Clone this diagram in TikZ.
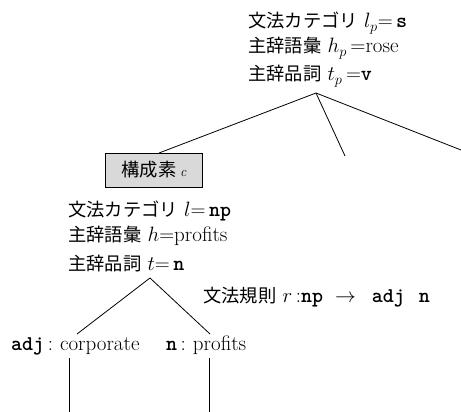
\documentclass[tikz,border=0pt]{standalone}
\usepackage{fontspec}
\newfontfamily\jp[Scale=0.87]{Noto Sans CJK JP}
\newcommand{\tb}[1]{{\ttfamily\bfseries #1}}
\begin{document}
\begin{tikzpicture}[x=1pt,y=-1pt,
  txt/.style={anchor=base west, inner sep=0pt, font=\fontsize{21}{25}\selectfont},
  edge/.style={line width=0.8pt},
  cbox/.style={draw=black, line width=0.9pt, fill=gray!30, minimum width=97pt, minimum height=34pt, inner sep=0pt, font=\fontsize{21}{25}\selectfont}]
\useasboundingbox (0,0) rectangle (461,412);
% top node
\node[txt] (p1) at (248,28) {{\jp 文法カテゴリ} $l_p{=}\,$\tb{s}};
\node[txt] (p2) at (248,53) {{\jp 主辞語彙} $h_p$\,=rose};
\node[txt] (p3) at (248,81) {{\jp 主辞品詞} $t_p$\,$=$\tb{v}};
\coordinate (pa) at (316,93);
\coordinate (pm) at (345,156);
\coordinate (pr) at (461,150);
% constituent box
\node[cbox] (c) at (154,170) {{\jp 構成素}\,{\fontsize{14}{16}\selectfont\itshape c}};
\coordinate (cl) at (159,153);
\draw[edge] (pa) -- (cl);
\draw[edge] (pa) -- (pm);
\draw[edge] (pa) -- (pr);
% middle node
\node[txt] (m1) at (68,216) {{\jp 文法カテゴリ} $l{=}\,$\tb{np}};
\node[txt] (m2) at (68,241) {{\jp 主辞語彙} $h{=}$profits};
\node[txt] (m3) at (68,270) {{\jp 主辞品詞} $t{=}\,$\tb{n}};
\coordinate (ma) at (150,278);
\coordinate (al) at (77,334);
\coordinate (ar) at (210,334);
\draw[edge] (ma) -- (al);
\draw[edge] (ma) -- (ar);
% rule
\node[txt] (rule) at (203,302) {{\jp 文法規則} $r$\,:\tb{np}\hspace{12pt}$\rightarrow$\hspace{16pt}\tb{adj}\hspace{14pt}\tb{n}};
% leaves
\node[txt] (adj) at (11,350) {\tb{adj}\,:\,\,corporate};
\node[txt] (nn) at (166,350) {\tb{n}\,:\,\,profits};
\coordinate (adjt) at (69,358);
\coordinate (adjb) at (69,412);
\coordinate (nt) at (209,358);
\coordinate (nb) at (209,412);
\draw[edge] (adjt) -- (adjb);
\draw[edge] (nt) -- (nb);
\end{tikzpicture}
\end{document}
